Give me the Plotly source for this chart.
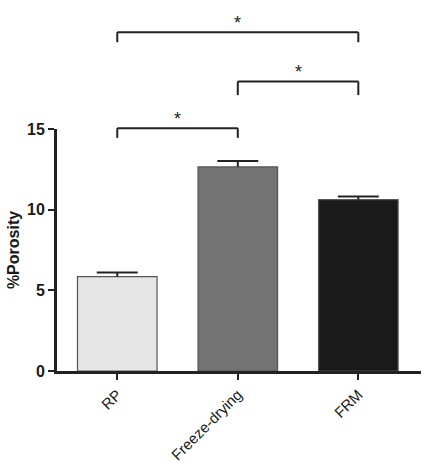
import plotly.graph_objects as go

categories = ["RP", "Freeze-drying", "FRM"]
porosity = [5.85, 12.65, 10.62]
sem = [0.26, 0.37, 0.2]
bar_colors = ["#e6e6e6", "#737373", "#1a1a1a"]
y_ticks = [0, 5, 10, 15]

# significance brackets: (from index, to index, bracket height, tick drop) in data units
brackets = [(0, 2, 21.0, 0.62), (1, 2, 17.95, 0.85), (0, 1, 15.05, 0.6)]
star_label = "*"

Y_MAX = 15.0
CAP_HALF = 0.17
BAR_WIDTH = 0.66

fig = go.Figure()
xs = list(range(len(categories)))
fig.add_trace(go.Bar(
    x=xs,
    y=porosity,
    width=BAR_WIDTH,
    marker=dict(color=bar_colors, line=dict(color="#555555", width=1.2)),
    showlegend=False,
))

# upper-only error bars (stem + cap) built from the data
ex, ey = [], []
for x, v, e in zip(xs, porosity, sem):
    ex += [x, x, None, x - CAP_HALF, x + CAP_HALF, None]
    ey += [v, v + e, None, v + e, v + e, None]
fig.add_trace(go.Scatter(x=ex, y=ey, mode="lines", line=dict(color="#222222", width=2),
                         showlegend=False, hoverinfo="skip", cliponaxis=False))

shapes = []
annotations = []
for a, b, h, drop in brackets:
    yp = h / Y_MAX
    yd = (h - drop) / Y_MAX
    line = dict(color="#222222", width=2)
    shapes.append(dict(type="line", xref="x", yref="paper", x0=a, x1=b, y0=yp, y1=yp, line=line))
    shapes.append(dict(type="line", xref="x", yref="paper", x0=a, x1=a, y0=yd, y1=yp, line=line))
    shapes.append(dict(type="line", xref="x", yref="paper", x0=b, x1=b, y0=yd, y1=yp, line=line))
    annotations.append(dict(x=(a + b) / 2, y=yp, xref="x", yref="paper", text=star_label,
                            showarrow=False, yanchor="bottom", yshift=-3,
                            font=dict(size=18, color="#222222", family="Liberation Sans, Arial")))

fig.update_layout(
    width=424, height=471,
    margin=dict(l=57, r=3, t=129, b=100),
    paper_bgcolor="white", plot_bgcolor="white",
    shapes=shapes, annotations=annotations,
    font=dict(family="Liberation Sans, Arial", color="#1a1a1a"),
)
fig.update_xaxes(
    range=[-0.5, 2.52],
    tickmode="array", tickvals=xs, ticktext=categories,
    tickangle=-45, tickfont=dict(size=15, color="#1a1a1a"),
    showline=True, linecolor="#222222", linewidth=3,
    ticks="outside", ticklen=6, tickwidth=2, tickcolor="#222222",
    showgrid=False, zeroline=False,
)
fig.update_yaxes(
    range=[0, Y_MAX],
    tickmode="array", tickvals=y_ticks, ticktext=[f"<b>{t}</b>" for t in y_ticks],
    tickfont=dict(size=16, color="#1a1a1a"),
    title=dict(text="<b>%Porosity</b>", font=dict(size=16, color="#1a1a1a"), standoff=4),
    showline=True, linecolor="#222222", linewidth=3,
    ticks="outside", ticklen=6, tickwidth=2, tickcolor="#222222",
    showgrid=False, zeroline=False,
)

fig.write_html("out.html")
